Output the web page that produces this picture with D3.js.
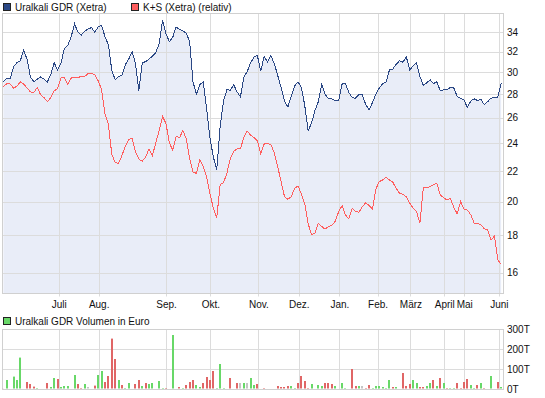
<!DOCTYPE html>
<html><head><meta charset="utf-8">
<script src="https://cdn.jsdelivr.net/npm/d3@7"></script>
<style>body{margin:0;background:#fff;} svg{display:block;font-family:Arial,"Liberation Sans",sans-serif;}</style>
</head><body><svg id="c" width="545" height="398"></svg>
<script>
const months = ["Juli","Aug.","Sep.","Okt.","Nov.","Dez.","Jan.","Feb.","März","April","Mai","Juni"];
const monthIdx = [16.33, 28.14, 48.02, 61.1, 75.28, 87.21, 99.2, 110.5, 120.2, 130.2, 136.1, 146.3];
const priceTicks = [16,18,20,22,24,26,28,30,32,34];
const volTicks = [0,100,200,300];
const volTickLabels = ["0T","100T","200T","300T"];
const seriesNames = ["Uralkali GDR (Xetra)", "K+S (Xetra) (relativ)"];
const volName = "Uralkali GDR Volumen in Euro";

const uralkali = [29.1,29.45,29.4,30.5,30.9,31.1,32.15,31.2,29.55,29.1,
 29.35,29.55,29.35,29.1,29.8,30.9,30.2,30.85,32.3,32.6,
 33.5,34.9,34.0,33.7,34.1,34.33,34.5,34.0,34.57,34.75,
 33.5,32.7,30.2,29.3,29.6,29.7,30.7,31.25,32.0,30.85,
 28.3,30.9,31.0,31.25,31.55,31.9,32.8,35.3,33.86,33.0,
 33.45,34.57,34.3,34.15,33.9,33.0,29.1,28.0,28.85,29.1,
 26.8,24.4,23.0,22.1,25.3,27.4,28.4,28.35,28.85,28.2,
 27.77,29.55,30.05,30.9,31.45,31.6,30.1,31.5,31.0,31.6,
 30.8,29.7,28.6,27.4,26.9,27.8,28.75,29.1,28.6,27.0,
 24.95,25.6,26.6,27.35,28.9,28.0,27.6,27.6,27.45,
 27.45,28.9,28.95,28.15,27.7,27.65,28.0,27.95,27.1,26.65,
 27.3,28.0,28.55,28.95,29.1,30.2,30.3,30.75,31.1,30.95,
 31.45,30.2,30.6,30.9,29.6,28.8,29.0,29.3,28.95,29.1,
 28.3,28.4,28.4,28.6,28.55,27.8,27.65,27.5,26.85,27.4,
 27.6,27.45,27.55,27.1,27.35,27.65,27.7,27.75,29.0];

const kps = [28.65,28.95,28.9,28.55,28.7,29.1,28.9,28.55,28.2,28.15,
 28.6,27.95,27.7,27.35,27.7,28.3,28.5,29.45,29.5,28.9,
 29.45,29.5,29.5,29.6,29.6,29.87,29.87,29.75,29.2,28.4,
 26.3,25.5,23.2,22.6,22.55,23.1,23.8,24.3,24.4,23.35,
 22.85,22.7,23.0,23.6,23.1,24.05,25.0,26.1,25.55,24.05,
 23.5,24.55,24.42,25.0,24.35,22.9,21.95,21.85,22.8,22.35,
 21.6,20.5,19.6,19.0,21.1,21.22,21.85,22.9,23.4,23.6,
 23.6,24.45,24.95,24.63,24.45,24.2,23.25,23.95,24.0,23.9,
 23.3,22.3,21.3,20.32,20.15,20.3,20.85,21.0,20.5,19.85,
 18.65,18.05,18.1,18.7,18.5,18.35,18.5,18.59,18.8,
 19.38,19.75,19.18,18.95,19.58,19.4,19.35,19.7,19.92,19.75,
 19.55,20.8,21.3,21.4,21.6,21.4,21.25,20.85,20.53,20.47,
 20.3,19.9,19.6,19.38,18.7,20.9,20.9,20.95,21.1,21.18,
 20.42,20.25,20.1,20.2,19.65,19.25,20.0,19.55,19.48,19.2,
 18.7,18.69,18.6,18.37,18.3,17.72,17.97,16.66,16.43];

const volume = [3,45,0,62,45,157,0,35,25,12,
 5,0,0,30,10,55,50,10,15,15,
 0,70,25,5,25,10,0,17,70,90,
 35,65,252,150,45,20,5,30,0,25,
 45,15,30,25,30,0,40,5,5,0,
 270,0,10,5,20,35,45,20,10,30,
 60,45,90,5,125,5,0,55,0,30,
 30,30,30,55,20,25,0,5,0,0,
 0,15,10,10,15,15,5,30,65,40,
 5,25,0,20,15,30,30,25,15,0,
 30,5,0,100,15,15,15,5,20,5,
 15,15,10,5,45,10,10,0,80,15,
 25,45,30,10,10,15,30,45,15,55,
 30,5,5,5,30,5,35,50,20,5,
 20,30,5,0,65,0,35,10];

const volDir = ["d","u","","u","u","u","","d","d","d",
 "u","","","d","u","u","d","u","u","u",
 "","u","d","d","u","n","","d","u","u",
 "d","d","d","d","u","d","u","u","","d",
 "d","u","d","u","u","","u","u","d","",
 "u","","d","u","d","d","d","u","u","d",
 "d","d","d","u","u","u","","d","","d",
 "n","u","n","u","u","d","","d","","",
 "","d","d","d","d","u","u","d","d","d",
 "d","u","","u","u","d","d","d","u","",
 "u","u","","d","d","u","n","d","d","u",
 "u","u","u","u","u","d","u","","d","d",
 "d","u","u","d","d","u","u","d","u","d",
 "u","d","u","u","d","d","d","d","u","u",
 "d","u","d","","u","","d","u"];

const C = {blue:"#2b4885", red:"#ff5e5e", fill:"#e9edf8", grid:"#dcdcdc", frame:"#d0d0d0",
  up:"#68d868", down:"#e06666", flat:"#c4c4c4", text:"#111"};

const svg = d3.select("#c");
const n = uralkali.length;
const x = d3.scaleLinear().domain([0, n-1]).range([3.4, 501.2]);
const y = d3.scaleLog().domain([15.0, 36.05]).range([293.5, 13.5]);
const yv = d3.scaleLinear().domain([0, 300]).range([389.5, 329.5]);
const L = 2.5, R = 503.5;

// ---- legend top
const leg = [{name:seriesNames[0], c:C.blue, x:3.5},{name:seriesNames[1], c:C.red, x:131.5}];
leg.forEach(l=>{
  svg.append("rect").attr("x",l.x).attr("y",3.5).attr("width",7).attr("height",7)
    .attr("fill",l.c).attr("stroke","#222").attr("stroke-width",1);
  svg.append("text").attr("x",l.x+11.5).attr("y",11).attr("font-size",10).attr("fill",C.text).text(l.name);
});

// ---- main plot
const pTop = y.range()[1], pBot = y.range()[0];
svg.append("rect").attr("x",L).attr("y",pTop).attr("width",R-L).attr("height",pBot-pTop).attr("fill","#fff");
svg.append("path").datum(uralkali)
  .attr("d", d3.area().x((d,i)=>x(i)).y0(pBot).y1(d=>y(d))).attr("fill",C.fill);

const g = svg.append("g");
g.selectAll(".hg").data(priceTicks).join("line")
  .attr("x1",L).attr("x2",R).attr("y1",d=>Math.round(y(d))+0.5).attr("y2",d=>Math.round(y(d))+0.5)
  .attr("stroke",C.grid);
g.selectAll(".vg").data(monthIdx).join("line")
  .attr("x1",d=>Math.round(x(d))+0.5).attr("x2",d=>Math.round(x(d))+0.5)
  .attr("y1",pTop).attr("y2",pBot+3).attr("stroke",C.grid);
svg.append("rect").attr("x",L).attr("y",pTop).attr("width",R-L).attr("height",pBot-pTop)
  .attr("fill","none").attr("stroke",C.frame);

const line = d3.line().x((d,i)=>x(i)).y(d=>y(d));
svg.append("path").datum(kps).attr("d",line).attr("fill","none").attr("stroke",C.red)
  .attr("stroke-width",1).attr("shape-rendering","crispEdges");
svg.append("path").datum(uralkali).attr("d",line).attr("fill","none").attr("stroke",C.blue)
  .attr("stroke-width",1).attr("shape-rendering","crispEdges");

svg.selectAll(".yl").data(priceTicks).join("text")
  .attr("x",507).attr("y",d=>y(d)+3.6).attr("font-size",10).attr("fill",C.text).text(d=>d);
svg.selectAll(".ml").data(monthIdx).join("text")
  .attr("x",d=>x(d)+0.5).attr("y",307.5).attr("text-anchor","middle").attr("font-size",10).attr("fill",C.text)
  .text((d,i)=>months[i]);

// ---- volume legend
svg.append("rect").attr("x",3.5).attr("y",317.5).attr("width",7).attr("height",7)
  .attr("fill",C.up).attr("stroke","#222");
svg.append("text").attr("x",15).attr("y",325).attr("font-size",10).attr("fill",C.text).text(volName);

// ---- volume plot
const vt = yv.range()[1], vb = yv.range()[0];
svg.append("rect").attr("x",L).attr("y",vt).attr("width",R-L).attr("height",vb-vt).attr("fill","#fff");
svg.selectAll(".vhg").data(volTicks).join("line")
  .attr("x1",L).attr("x2",R).attr("y1",d=>yv(d)).attr("y2",d=>yv(d)).attr("stroke",C.grid);
svg.selectAll(".vvg").data(monthIdx).join("line")
  .attr("x1",d=>Math.round(x(d))+0.5).attr("x2",d=>Math.round(x(d))+0.5)
  .attr("y1",vt).attr("y2",vb).attr("stroke",C.grid);
svg.append("rect").attr("x",L).attr("y",vt).attr("width",R-L).attr("height",vb-vt)
  .attr("fill","none").attr("stroke",C.frame);

svg.selectAll(".bar").data(volume).join("rect")
  .attr("x",(d,i)=>Math.round(x(i))-1).attr("width",2)
  .attr("y",d=>yv(d)-0.5).attr("height",d=>Math.max(0,vb-0.5-yv(d)))
  .attr("fill",(d,i)=>volDir[i]==="u"?C.up:volDir[i]==="d"?C.down:C.flat)
  .attr("display",d=>d>0?null:"none");

svg.selectAll(".vl").data(volTicks).join("text")
  .attr("x",507).attr("y",d=>yv(d)+3.6).attr("font-size",10).attr("fill",C.text)
  .text((d,i)=>volTickLabels[i]);
</script></body></html>
